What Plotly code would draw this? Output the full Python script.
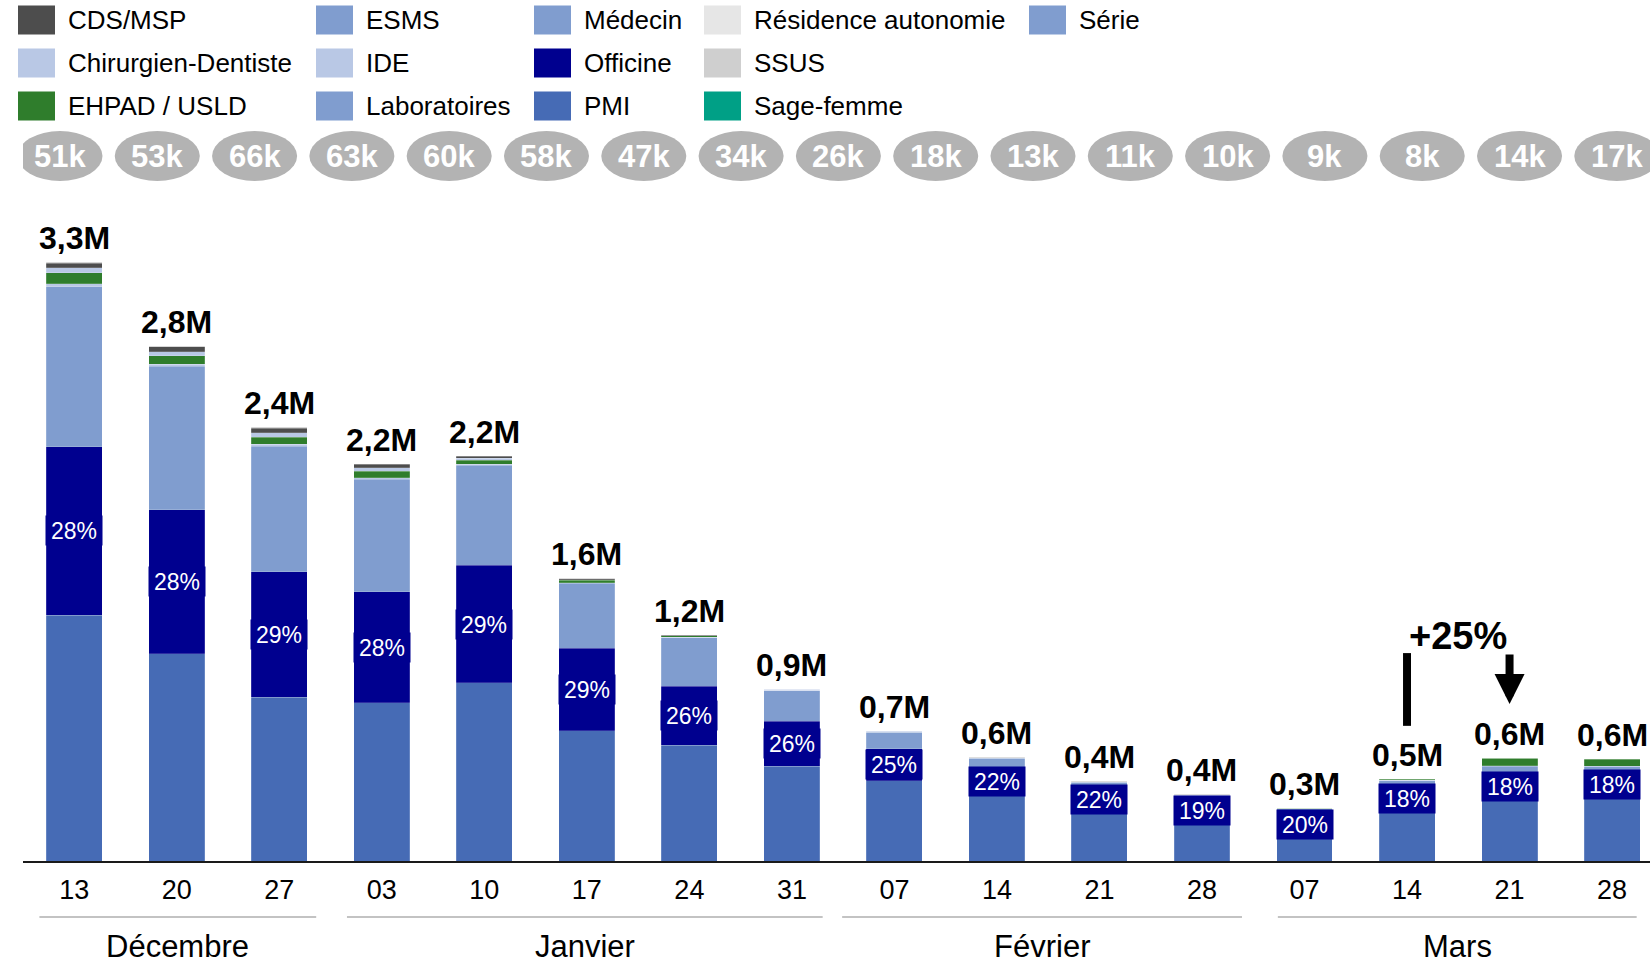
import plotly.graph_objects as go

# ---------------- data ----------------
weeks = ["13", "20", "27", "03", "10", "17", "24", "31",
         "07", "14", "21", "28", "07", "14", "21", "28"]
months = ["Décembre", "Janvier", "Février", "Mars"]
month_first = [0, 3, 8, 12]
month_last = [2, 7, 11, 15]

# values in millions
pmi = [1.352, 1.14, 0.90, 0.87, 0.98, 0.715, 0.635, 0.522, 0.44, 0.375, 0.29, 0.245, 0.17, 0.30, 0.36, 0.37]
officine = [0.925, 0.79, 0.69, 0.61, 0.645, 0.455, 0.325, 0.247, 0.178, 0.125, 0.097, 0.07, 0.058, 0.082, 0.102, 0.10]
medecin = [0.88, 0.79, 0.69, 0.62, 0.55, 0.357, 0.268, 0.167, 0.09, 0.064, 0.045, 0.045, 0.058, 0.06, 0.06, 0.05]
esms = [0.0] * 16
laboratoires = [0.0] * 16
serie = [0.0] * 16
ide = [0.016, 0.012, 0.01, 0.008, 0.006, 0.004, 0.003, 0.002, 0.001, 0.001, 0.001, 0.001, 0.001, 0.002, 0.003, 0.002]
ehpad = [0.062, 0.045, 0.04, 0.035, 0.022, 0.012, 0.006, 0.004, 0.002, 0.002, 0.002, 0.002, 0.002, 0.006, 0.04, 0.038]
chirurgien = [0.027, 0.022, 0.025, 0.018, 0.01, 0.004, 0.002, 0.001, 0.001, 0.001, 0.001, 0.001, 0.001, 0.001, 0.001, 0.001]
sage_femme = [0.0] * 16
residence = [0.0] * 16
cds_msp = [0.024, 0.028, 0.025, 0.02, 0.012, 0.006, 0.003, 0.002, 0.003, 0.001, 0.001, 0.001, 0.001, 0.001, 0.001, 0.001]
ssus = [0.006, 0.005, 0.005, 0.004, 0.004, 0.002, 0.001, 0.001, 0.001, 0.001, 0.001, 0.001, 0.0, 0.001, 0.001, 0.001]

bubble_k = [51, 53, 66, 63, 60, 58, 47, 34, 26, 18, 13, 11, 10, 9, 8, 14, 17]

# ---------------- styles ----------------
colors = {
    "CDS/MSP": "#4d4d4d",
    "Chirurgien-Dentiste": "#b9c8e5",
    "EHPAD / USLD": "#2f7d2c",
    "ESMS": "#809dcf",
    "IDE": "#b9c8e5",
    "Laboratoires": "#809dcf",
    "Médecin": "#809dcf",
    "Officine": "#00008f",
    "PMI": "#466bb5",
    "Résidence autonomie": "#e6e6e6",
    "SSUS": "#cfcfcf",
    "Sage-femme": "#00a086",
    "Série": "#809dcf",
}
# stacking order bottom -> top
stack = [
    ("PMI", pmi), ("Officine", officine), ("Médecin", medecin),
    ("ESMS", esms), ("Laboratoires", laboratoires), ("Série", serie),
    ("IDE", ide), ("EHPAD / USLD", ehpad), ("Chirurgien-Dentiste", chirurgien),
    ("Sage-femme", sage_femme), ("Résidence autonomie", residence),
    ("CDS/MSP", cds_msp), ("SSUS", ssus),
]

FONT = "Arial, Liberation Sans, sans-serif"
W, H = 1650, 965
ML, MT = 23, 200
BASE = 861                      # baseline in window pixels
MB = H - BASE
MR = 0
PW, PH = W - ML - MR, H - MT - MB
YMAX = PH / 181.9
n = len(weeks)
x = list(range(n))


def px_to_paper_x(px):
    return (px - ML) / PW


def py_to_paper_y(py):
    return (BASE - py) / PH


fig = go.Figure()
for name, vals in stack:
    if max(vals) <= 0:
        continue
    fig.add_trace(go.Bar(
        x=x, y=vals, name=name, showlegend=False,
        marker=dict(color=colors[name], line=dict(width=0.5, color="rgba(255,255,255,0.35)")),
        hoverinfo="name+y",
    ))

totals = [sum(v[i] for _, v in stack) for i in range(n)]

annotations = []
shapes = []

# totals labels and Officine share
for i in range(n):
    annotations.append(dict(
        x=i, y=totals[i], xref="x", yref="y", yanchor="bottom", yshift=4,
        text="<b>" + f"{totals[i]:.1f}".replace(".", ",") + "M</b>",
        showarrow=False, font=dict(family=FONT, size=32, color="black"),
    ))
    pct = round(100 * officine[i] / totals[i])
    annotations.append(dict(
        x=i, y=pmi[i] + officine[i] / 2, xref="x", yref="y", yanchor="middle",
        text=f"{pct}%", showarrow=False, bgcolor=colors["Officine"],
        width=52, height=25, borderpad=2,
        font=dict(family=FONT, size=23, color="white"),
    ))

# bubbles row (separate overlay axis)
fig.add_trace(go.Scatter(x=list(range(len(bubble_k))), y=[0] * len(bubble_k), xaxis="x2",
                         mode="markers", marker=dict(opacity=0), showlegend=False, hoverinfo="skip"))
bc = py_to_paper_y(156)
bh = 25 / PH
for j, v in enumerate(bubble_k):
    shapes.append(dict(type="circle", xref="x2", yref="paper",
                       x0=j - 0.437, x1=j + 0.437, y0=bc - bh, y1=bc + bh,
                       fillcolor="#b3b3b3", line=dict(width=0), layer="above"))
    annotations.append(dict(x=j, y=bc, xref="x2", yref="paper", text=f"<b>{v}k</b>",
                            showarrow=False, yanchor="middle",
                            font=dict(family=FONT, size=31, color="white")))

# month groups
month_pad = [(-0.34, 0.36), (-0.34, 0.30), (-0.51, 0.39), (-0.26, 0.24)]
ly = py_to_paper_y(917)
for m, name in enumerate(months):
    x0 = month_first[m] + month_pad[m][0]
    x1 = month_last[m] + month_pad[m][1]
    shapes.append(dict(type="line", xref="x", yref="paper", x0=x0, x1=x1, y0=ly, y1=ly,
                       line=dict(color="#c3c3c3", width=2)))
    annotations.append(dict(x=(x0 + x1) / 2, y=py_to_paper_y(946), xref="x", yref="paper",
                            text=name, showarrow=False, yanchor="middle", borderpad=0,
                            font=dict(family=FONT, size=31, color="black")))

# +25% evolution annotation between 14 Mar and 21 Mar
a, b = 13, 14
growth = round(100 * (totals[b] / totals[a] - 1))
y_top = totals[b] + 0.575
shapes.append(dict(type="line", xref="x", yref="y", x0=a, x1=a,
                   y0=totals[a] + 0.29, y1=y_top, line=dict(color="black", width=8)))
annotations.append(dict(x=b, y=totals[b] + 0.295, ax=b, ay=y_top, xref="x", yref="y",
                        axref="x", ayref="y", text="", showarrow=True, arrowhead=2,
                        arrowsize=0.75, arrowwidth=8, arrowcolor="black"))
annotations.append(dict(x=(a + b) / 2, y=totals[b] + 0.67, xref="x", yref="y",
                        text=f"<b>+{growth}%</b>", showarrow=False, yanchor="middle",
                        font=dict(family=FONT, size=38, color="black")))

# manual legend (3 rows, column-major, sorted)
legend_names = sorted(colors.keys())
col_left = [18, 316, 534, 704, 1029]
row_center = [20, 63, 106]
for k, name in enumerate(legend_names):
    c, r = k // 3, k % 3
    cy = row_center[r]
    shapes.append(dict(type="rect", xref="paper", yref="paper",
                       x0=px_to_paper_x(col_left[c]), x1=px_to_paper_x(col_left[c] + 37),
                       y0=py_to_paper_y(cy + 14.5), y1=py_to_paper_y(cy - 14.5),
                       fillcolor=colors[name], line=dict(width=0)))
    annotations.append(dict(x=px_to_paper_x(col_left[c] + 48), y=py_to_paper_y(cy),
                            xref="paper", yref="paper", xanchor="left", yanchor="middle",
                            text=name, showarrow=False,
                            font=dict(family=FONT, size=26, color="black")))

fig.update_layout(
    width=W, height=H, barmode="stack", bargap=0.454,
    margin=dict(l=ML, r=MR, t=MT, b=MB, pad=0),
    paper_bgcolor="white", plot_bgcolor="white",
    font=dict(family=FONT, color="black"),
    xaxis=dict(range=[-0.5, 15.37], tickmode="array", tickvals=x, ticktext=weeks,
               tickfont=dict(family=FONT, size=27, color="black"), ticks="",
               showline=True, linecolor="#1a1a1a", linewidth=2, showgrid=False,
               zeroline=False, ticklabelstandoff=4, fixedrange=True),
    xaxis2=dict(range=[-0.380, 16.341], overlaying="x", visible=False, fixedrange=True),
    yaxis=dict(range=[0, YMAX], visible=False, showgrid=False, zeroline=False, fixedrange=True),
    annotations=annotations, shapes=shapes, showlegend=False,
)

# remove the default page margin so the 1650x965 figure fills the window exactly
fig.write_html("out.html",
               config={"displayModeBar": False},
               post_script="document.body.style.margin='0';"
                           "document.documentElement.style.overflow='hidden';")
